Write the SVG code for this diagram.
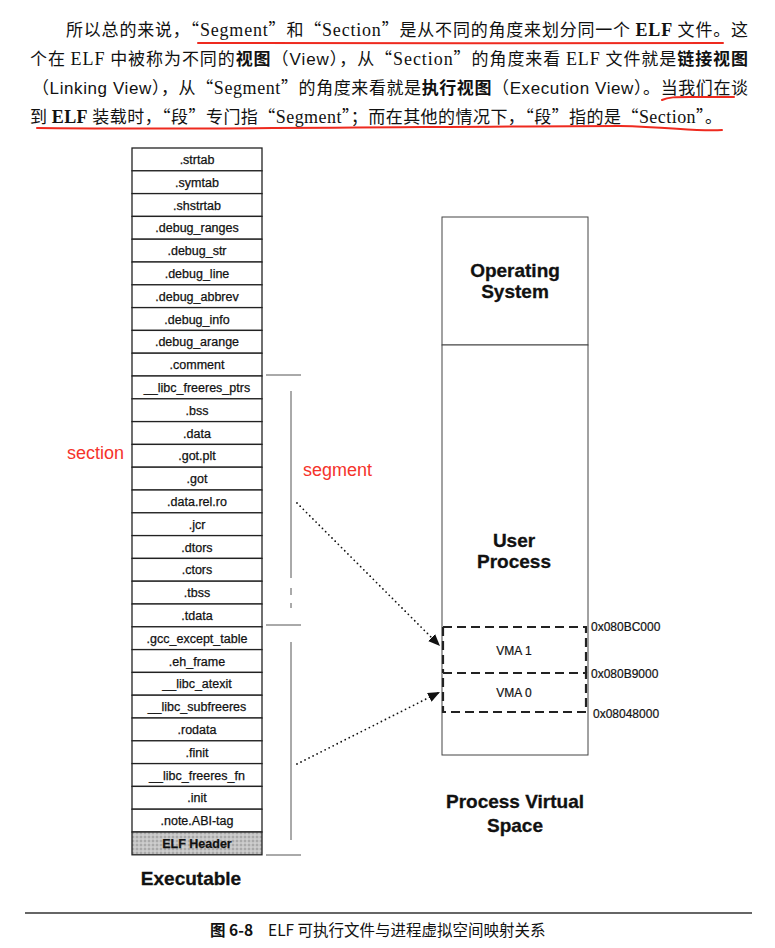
<svg xmlns="http://www.w3.org/2000/svg" width="775" height="948" viewBox="0 0 775 948">
<style>
.p{font-family:"Noto Sans CJK SC","Liberation Serif",serif;font-size:17px;fill:#111}
.se{font-family:"Liberation Serif","Noto Sans CJK SC",serif;font-size:18px}
.sa{font-family:"Liberation Sans","Noto Sans CJK SC",sans-serif;font-size:17px}
.b{font-weight:bold}
.row rect{fill:#fff;stroke:#222;stroke-width:1.3}
.lbl{font-family:"Liberation Sans",Arial,sans-serif;font-size:12.5px;text-anchor:middle;fill:#111;stroke:#111;stroke-width:0.25}
.big{font-family:"Liberation Sans",Arial,sans-serif;font-size:19px;font-weight:bold;text-anchor:middle;fill:#111;stroke:#111;stroke-width:0.3}
.addr{font-family:"Liberation Sans",Arial,sans-serif;font-size:12px;fill:#111;stroke:#111;stroke-width:0.2}
.red{font-family:"Liberation Sans",Arial,sans-serif;font-size:18px;fill:#f5332b}
.ul{fill:none;stroke:#ee2a1f;stroke-width:2;stroke-linecap:round}
.dot{fill:none;stroke:#111;stroke-width:1.8;stroke-dasharray:0 4.5;stroke-linecap:round}
.dash{fill:none;stroke:#222;stroke-width:2.2;stroke-dasharray:9 5}
.br{fill:none;stroke:#555;stroke-width:1}
</style>
<defs>
<marker id="ah" viewBox="0 0 12 10" refX="12" refY="5" markerWidth="12" markerHeight="10" markerUnits="userSpaceOnUse" orient="auto">
<path d="M0,0 L12,5 L0,10 Z" fill="#111"/>
</marker>
<pattern id="stip" width="4" height="4" patternUnits="userSpaceOnUse">
<rect width="4" height="4" fill="#c4c4c4"/>
<circle cx="1" cy="1" r="0.7" fill="#7a7a7a"/>
<circle cx="3" cy="3" r="0.6" fill="#eeeeee"/>
</pattern>
</defs>

<g id="paragraph">
<text class="p" x="66" y="36" textLength="682" lengthAdjust="spacing">所以总的来说，“<tspan class="se">Segment</tspan>”和“<tspan class="se">Section</tspan>”是从不同的角度来划分同一个 <tspan class="se b">ELF</tspan> 文件。这</text>
<text class="p" x="30" y="65" textLength="718" lengthAdjust="spacing">个在 <tspan class="se">ELF</tspan> 中被称为不同的<tspan class="b">视图</tspan>（<tspan class="sa">View</tspan>），从“<tspan class="se">Section</tspan>”的角度来看 <tspan class="se">ELF</tspan> 文件就是<tspan class="b">链接视图</tspan></text>
<text class="p" x="32" y="94" textLength="716" lengthAdjust="spacing">（<tspan class="sa">Linking View</tspan>），从“<tspan class="se">Segment</tspan>”的角度来看就是<tspan class="b">执行视图</tspan>（<tspan class="sa">Execution View</tspan>）。当我们在谈</text>
<text class="p" x="30" y="123" textLength="692" lengthAdjust="spacing">到 <tspan class="se b">ELF</tspan> 装载时，“段”专门指“<tspan class="se">Segment</tspan>”；而在其他的情况下，“段”指的是“<tspan class="se">Section</tspan>”。</text>
<path class="ul" d="M198,43 C300,44 600,43 723,43"/>
<path class="ul" d="M662,100 C668,97 676,97 690,97 L734,97"/>
<path class="ul" d="M37,128 C200,130 480,126 620,126 C670,127 700,132 722,130"/>
</g>

<g id="executable">
<g class="row" id="r0"><rect x="132" y="148" width="130" height="22.8"/><text class="lbl" x="197" y="163.9">.strtab</text></g>
<g class="row" id="r1"><rect x="132" y="170.8" width="130" height="22.8"/><text class="lbl" x="197" y="186.7">.symtab</text></g>
<g class="row" id="r2"><rect x="132" y="193.6" width="130" height="22.8"/><text class="lbl" x="197" y="209.5">.shstrtab</text></g>
<g class="row" id="r3"><rect x="132" y="216.4" width="130" height="22.8"/><text class="lbl" x="197" y="232.3">.debug_ranges</text></g>
<g class="row" id="r4"><rect x="132" y="239.2" width="130" height="22.8"/><text class="lbl" x="197" y="255.1">.debug_str</text></g>
<g class="row" id="r5"><rect x="132" y="262" width="130" height="22.8"/><text class="lbl" x="197" y="277.9">.debug_line</text></g>
<g class="row" id="r6"><rect x="132" y="284.8" width="130" height="22.8"/><text class="lbl" x="197" y="300.7">.debug_abbrev</text></g>
<g class="row" id="r7"><rect x="132" y="307.6" width="130" height="22.8"/><text class="lbl" x="197" y="323.5">.debug_info</text></g>
<g class="row" id="r8"><rect x="132" y="330.4" width="130" height="22.8"/><text class="lbl" x="197" y="346.3">.debug_arange</text></g>
<g class="row" id="r9"><rect x="132" y="353.2" width="130" height="22.8"/><text class="lbl" x="197" y="369.1">.comment</text></g>
<g class="row" id="r10"><rect x="132" y="376" width="130" height="22.8"/><text class="lbl" x="197" y="391.9">__libc_freeres_ptrs</text></g>
<g class="row" id="r11"><rect x="132" y="398.8" width="130" height="22.8"/><text class="lbl" x="197" y="414.7">.bss</text></g>
<g class="row" id="r12"><rect x="132" y="421.6" width="130" height="22.8"/><text class="lbl" x="197" y="437.5">.data</text></g>
<g class="row" id="r13"><rect x="132" y="444.4" width="130" height="22.8"/><text class="lbl" x="197" y="460.3">.got.plt</text></g>
<g class="row" id="r14"><rect x="132" y="467.2" width="130" height="22.8"/><text class="lbl" x="197" y="483.1">.got</text></g>
<g class="row" id="r15"><rect x="132" y="490" width="130" height="22.8"/><text class="lbl" x="197" y="505.9">.data.rel.ro</text></g>
<g class="row" id="r16"><rect x="132" y="512.8" width="130" height="22.8"/><text class="lbl" x="197" y="528.7">.jcr</text></g>
<g class="row" id="r17"><rect x="132" y="535.6" width="130" height="22.8"/><text class="lbl" x="197" y="551.5">.dtors</text></g>
<g class="row" id="r18"><rect x="132" y="558.4" width="130" height="22.8"/><text class="lbl" x="197" y="574.3">.ctors</text></g>
<g class="row" id="r19"><rect x="132" y="581.2" width="130" height="22.8"/><text class="lbl" x="197" y="597.1">.tbss</text></g>
<g class="row" id="r20"><rect x="132" y="604" width="130" height="22.8"/><text class="lbl" x="197" y="619.9">.tdata</text></g>
<g class="row" id="r21"><rect x="132" y="626.8" width="130" height="22.8"/><text class="lbl" x="197" y="642.7">.gcc_except_table</text></g>
<g class="row" id="r22"><rect x="132" y="649.6" width="130" height="22.8"/><text class="lbl" x="197" y="665.5">.eh_frame</text></g>
<g class="row" id="r23"><rect x="132" y="672.4" width="130" height="22.8"/><text class="lbl" x="197" y="688.3">__libc_atexit</text></g>
<g class="row" id="r24"><rect x="132" y="695.2" width="130" height="22.8"/><text class="lbl" x="197" y="711.1">__libc_subfreeres</text></g>
<g class="row" id="r25"><rect x="132" y="718" width="130" height="22.8"/><text class="lbl" x="197" y="733.9">.rodata</text></g>
<g class="row" id="r26"><rect x="132" y="740.8" width="130" height="22.8"/><text class="lbl" x="197" y="756.7">.finit</text></g>
<g class="row" id="r27"><rect x="132" y="763.6" width="130" height="22.8"/><text class="lbl" x="197" y="779.5">__libc_freeres_fn</text></g>
<g class="row" id="r28"><rect x="132" y="786.4" width="130" height="22.8"/><text class="lbl" x="197" y="802.3">.init</text></g>
<g class="row" id="r29"><rect x="132" y="809.2" width="130" height="22.8"/><text class="lbl" x="197" y="825.1">.note.ABI-tag</text></g>
<g class="row" id="r30"><rect x="132" y="832" width="130" height="22.8" style="fill:url(#stip)"/><text class="lbl" x="197" y="847.9" font-weight="bold">ELF Header</text></g>
<text class="big" x="191" y="885">Executable</text>
</g>

<g id="process-space">
<g id="os"><rect x="442" y="217" width="146" height="128" fill="#fff" stroke="#444" stroke-width="1"/><text class="big" x="515" y="277">Operating</text><text class="big" x="515" y="298">System</text></g>
<g id="user"><rect x="442" y="345" width="146" height="410" fill="#fff" stroke="#444" stroke-width="1"/><text class="big" x="514" y="547">User</text><text class="big" x="514" y="568">Process</text></g>
<g id="vma1"><path class="dash" d="M443,627 H586 V673 M443,627 V673"/><text class="addr" x="514" y="655" text-anchor="middle" font-size="12.5">VMA 1</text></g>
<g id="vma0"><path class="dash" d="M443,673 H586 V712 H443 Z"/><text class="addr" x="514" y="697" text-anchor="middle" font-size="12.5">VMA 0</text></g>
<text class="addr" x="591" y="631">0x080BC000</text>
<text class="addr" x="591" y="678">0x080B9000</text>
<text class="addr" x="593" y="718">0x08048000</text>
<text class="big" x="515" y="808">Process Virtual</text>
<text class="big" x="515" y="832">Space</text>
</g>

<g id="connectors">
<path class="br" d="M266,375 H301 M266,625 H301 M266,855 H301"/>
<path class="br" d="M291,391 V578 M291,588 V595 M291,603 V608 M291,642 V840"/>
<path class="dot" d="M297,503 L440,646" marker-end="url(#ah)"/>
<path class="dot" d="M297,764 L440,692" marker-end="url(#ah)"/>
</g>

<text class="red" x="67" y="459">section</text>
<text class="red" x="303" y="476">segment</text>

<g id="caption">
<path d="M25,913 H752" stroke="#333" stroke-width="1.5"/>
<text x="210" y="936" style="font-family:'Noto Sans CJK SC',sans-serif;font-size:15.5px;fill:#111"><tspan font-weight="bold">图 6-8</tspan>   <tspan x="268">ELF 可执行文件与进程虚拟空间映射关系</tspan></text>
</g>
</svg>
